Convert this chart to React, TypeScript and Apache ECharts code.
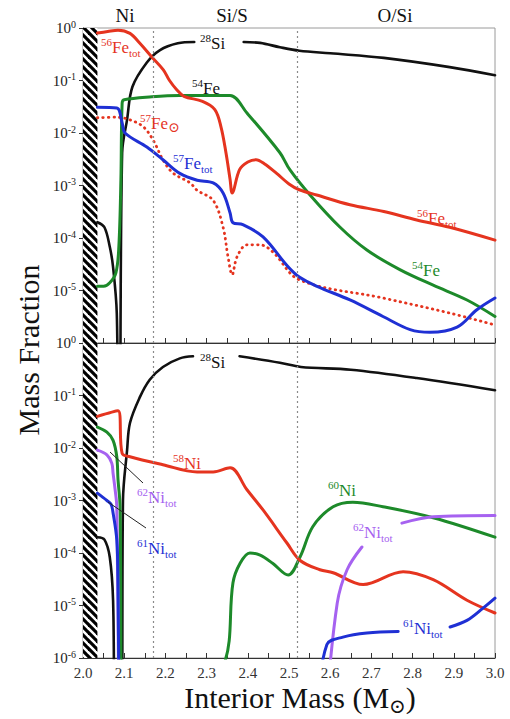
import React, { useEffect, useRef } from "react";
import * as echarts from "echarts";

type Pt = [number, number | null];

const SERIF = '"Liberation Serif", "DejaVu Serif", serif';
const RED = "#e5341f";
const GREEN = "#1d8a2a";
const BLUE = "#1f30d4";
const PURPLE = "#a662f0";
const BLACK = "#111111";

// Shared axis settings
const xRange = [2.0, 3.0];
const yRange = [1e-6, 1];
const zoneEdges = [2.17, 2.525];
const hatchEdge = [2.0, 2.035];
const zoneNames = ["Ni", "Si/S", "O/Si"];

// ---------- Top panel (Fe isotopes) ----------
const si28Top: Pt[] = [
  [2.035, 2.0e-4], [2.052, 1.6e-4], [2.065, 6.8e-5], [2.073, 2.8e-5], [2.082, 3.7e-6], [2.086, 1e-8],
  [2.089, 1e-8], [2.095, 4.2e-3], [2.107, 0.018], [2.12, 0.076], [2.155, 0.22], [2.187, 0.38],
  [2.23, 0.51], [2.27, 0.54], [2.33, null], [2.39, 0.54], [2.43, 0.52], [2.478, 0.43],
  [2.525, 0.37], [2.6, 0.33], [2.73, 0.27], [2.89, 0.18], [3.0, 0.126],
];
const fe54Top: Pt[] = [
  [2.035, 1.2e-5], [2.05, 1.2e-5], [2.065, 1.4e-5], [2.08, 2.2e-5], [2.087, 6.8e-5], [2.092, 1.3e-3],
  [2.095, 0.037], [2.1, 0.043], [2.167, 0.049], [2.235, 0.052], [2.3, 0.052], [2.357, 0.052],
  [2.398, 0.024], [2.478, 4.2e-3], [2.502, 2.0e-3], [2.551, 6.6e-4], [2.624, 1.6e-4], [2.689, 5.9e-5],
  [2.769, 2.5e-5], [2.85, 1.26e-5], [2.932, 6.6e-6], [3.0, 3.2e-6],
];
const fe56TotTop: Pt[] = [
  [2.035, 0.8], [2.06, 0.86], [2.085, 0.91], [2.114, 0.79], [2.138, 0.51], [2.167, 0.28], [2.195, 0.16],
  [2.21, 0.1], [2.228, 0.066], [2.245, 0.05], [2.29, 0.04], [2.32, 0.028], [2.335, 0.013], [2.347, 4.2e-3],
  [2.357, 1.3e-3], [2.362, 7.2e-4], [2.38, 2.0e-3], [2.4, 2.8e-3], [2.42, 3.1e-3], [2.44, 2.6e-3],
  [2.47, 1.7e-3], [2.5, 1.07e-3], [2.525, 8.3e-4], [2.567, 6.6e-4], [2.648, 4.3e-4], [2.73, 3.2e-4],
  [2.81, 2.2e-4], [2.89, 1.6e-4], [3.0, 9.1e-5],
];
const fe57SunTop: Pt[] = [
  [2.035, 0.0195], [2.082, 0.02], [2.114, 0.0178], [2.146, 0.0132], [2.17, 7.4e-3], [2.194, 3.1e-3],
  [2.218, 1.74e-3], [2.26, 1.12e-3], [2.277, 8.1e-4], [2.316, 5.2e-4], [2.34, 1.6e-4], [2.352, 4.4e-5],
  [2.362, 2.0e-5], [2.374, 4.4e-5], [2.398, 7.4e-5], [2.43, 7.4e-5], [2.461, 5.4e-5], [2.525, 1.6e-5],
  [2.728, 7.2e-6], [2.891, 3.7e-6], [3.0, 2.2e-6],
];
const fe57TotTop: Pt[] = [
  [2.035, 0.031], [2.082, 0.03], [2.095, 0.0155], [2.102, 0.01], [2.155, 5.4e-3], [2.194, 3.1e-3],
  [2.235, 1.7e-3], [2.277, 1.26e-3], [2.316, 1.12e-3], [2.34, 7.2e-4], [2.357, 3.0e-4], [2.364, 1.95e-4],
  [2.388, 1.8e-4], [2.437, 1.05e-4], [2.495, 3.0e-5], [2.525, 1.8e-5], [2.568, 1.2e-5], [2.648, 6.6e-6],
  [2.728, 3.2e-6], [2.794, 1.8e-6], [2.842, 1.6e-6], [2.908, 2.0e-6], [2.956, 4.3e-6], [3.0, 7.2e-6],
];

// ---------- Bottom panel (Ni isotopes) ----------
const si28Bot: Pt[] = [
  [2.035, 2.0e-4], [2.052, 1.8e-4], [2.065, 8.3e-5], [2.073, 1.26e-5], [2.08, 1e-8],
  [2.094, 1e-8], [2.097, 1e-3], [2.107, 9.1e-3], [2.114, 0.03], [2.138, 0.093], [2.162, 0.2],
  [2.194, 0.35], [2.235, 0.51], [2.267, 0.56], [2.33, null], [2.38, 0.56], [2.478, 0.42],
  [2.529, 0.35], [2.65, 0.31], [2.81, 0.215], [3.0, 0.126],
];
const ni58Bot: Pt[] = [
  [2.035, 0.04], [2.085, 0.051], [2.095, 7.9e-3], [2.114, 6.8e-3], [2.194, 4.8e-3], [2.277, 3.5e-3],
  [2.316, 3.5e-3], [2.357, 4.2e-3], [2.398, 1.6e-3], [2.437, 6.6e-4], [2.495, 1.55e-4], [2.527, 7.2e-5],
  [2.575, 4.8e-5], [2.607, 4.2e-5], [2.68, 2.5e-5], [2.777, 4.4e-5], [2.85, 3.1e-5], [2.932, 1.26e-5],
  [3.0, 7.2e-6],
];
const ni60Bot: Pt[] = [
  [2.035, 0.025], [2.058, 0.02], [2.073, 0.014], [2.082, 6.8e-3], [2.085, 2.5e-3], [2.09, 7.6e-4],
  [2.096, 1e-8], [2.343, 8e-7], [2.364, 2.7e-5], [2.381, 6.3e-5], [2.405, 1.0e-4], [2.43, 9.1e-5],
  [2.461, 6.3e-5], [2.498, 3.8e-5], [2.527, 8.5e-5], [2.558, 3.2e-4], [2.607, 7.6e-4], [2.655, 9.3e-4],
  [2.728, 7.6e-4], [2.85, 4.7e-4], [3.0, 2.0e-4],
];
const ni62TotBot: Pt[] = [
  [2.035, 9.1e-3], [2.058, 7.4e-3], [2.07, 5.1e-3], [2.073, 3.3e-3], [2.078, 1.6e-3], [2.082, 7.6e-4],
  [2.088, 1e-8], [2.45, null], [2.59, 1e-7], [2.617, 1.1e-5], [2.641, 4.8e-5], [2.677, 1.3e-4],
  [2.72, null], [2.774, 3.7e-4], [2.85, 4.9e-4], [3.0, 5.2e-4],
];
const ni61TotBot: Pt[] = [
  [2.035, 1.38e-3], [2.058, 1.0e-3], [2.068, 8.5e-4], [2.073, 5.8e-4], [2.082, 1.8e-4], [2.085, 2.7e-5],
  [2.088, 1e-8], [2.45, null], [2.566, 1e-7], [2.592, 1.8e-6], [2.631, 2.5e-6], [2.689, 3.0e-6],
  [2.765, 3.2e-6], [2.83, null], [2.891, 3.9e-6], [2.932, 5.2e-6], [2.971, 8.9e-6], [3.0, 1.38e-5],
];

function makeHatch(): HTMLCanvasElement {
  const c = document.createElement("canvas");
  c.width = 8;
  c.height = 8;
  const ctx = c.getContext("2d")!;
  ctx.fillStyle = "#ffffff";
  ctx.fillRect(0, 0, 8, 8);
  ctx.strokeStyle = "#000000";
  ctx.lineWidth = 3.2;
  for (const k of [-8, 0, 8]) {
    ctx.beginPath();
    ctx.moveTo(-2, -2 + k);
    ctx.lineTo(10, 10 + k);
    ctx.stroke();
  }
  return c;
}

function isoLabel(x: number, y: number, mass: string, el: string, sub: string, color: string, subSize = 11) {
  const rich = {
    p: { fontSize: 11, fontFamily: SERIF, fill: color, verticalAlign: "top" },
    n: { fontSize: 17, fontFamily: SERIF, fill: color, lineHeight: 22 },
    b: { fontSize: subSize, fontFamily: SERIF, fill: color, verticalAlign: "bottom" },
  };
  return {
    type: "text",
    x,
    y,
    z: 100,
    style: {
      text: `{p|${mass}}{n|${el}}` + (sub ? `{b|${sub}}` : ""),
      rich,
      align: "left",
      verticalAlign: "middle",
    },
  };
}

export default function App() {
  const ref = useRef<HTMLDivElement>(null);
  useEffect(() => {
    if (!ref.current) return;
    const chart = echarts.init(ref.current, undefined, { renderer: "svg" });
    const hatch = { image: makeHatch(), repeat: "repeat", imageWidth: 8, imageHeight: 8 };

    const line = (data: Pt[], color: string, width: number, grid: number, extra: any = {}) => ({
      type: "line",
      data,
      xAxisIndex: grid,
      yAxisIndex: grid,
      symbol: "none",
      showSymbol: false,
      smooth: 0.35,
      connectNulls: false,
      clip: true,
      silent: true,
      lineStyle: { color, width, cap: "round", join: "round" },
      z: 3,
      ...extra,
    });

    const decor = {
      markLine: {
        silent: true,
        symbol: ["none", "none"],
        label: { show: false },
        lineStyle: { color: "#8a8a8a", width: 1.2, type: [2, 3] },
        data: zoneEdges.map((v) => ({ xAxis: v })),
      },
      markArea: {
        silent: true,
        itemStyle: { color: hatch },
        data: [[{ xAxis: hatchEdge[0] }, { xAxis: hatchEdge[1] }]],
      },
    };

    const xAxisBase = (grid: number, showLabels: boolean) => ({
      type: "value",
      gridIndex: grid,
      min: xRange[0],
      max: xRange[1],
      interval: 0.05,
      splitLine: { show: false },
      axisLine: { show: true, lineStyle: { color: "#333", width: 1.2 } },
      axisTick: { show: true, inside: true, length: 5, lineStyle: { color: "#333" } },
      axisLabel: {
        show: showLabels,
        margin: 7,
        fontFamily: SERIF,
        fontSize: 15,
        color: "#333",
        formatter: (v: number) => (Math.round(v * 20) % 2 === 0 ? v.toFixed(1) : ""),
      },
    });

    const yAxisBase = (grid: number, hideBottom: boolean) => ({
      type: "log",
      logBase: 10,
      gridIndex: grid,
      min: yRange[0],
      max: yRange[1],
      interval: 1,
      splitLine: { show: false },
      axisLine: { show: true, lineStyle: { color: "#333", width: 1 } },
      axisTick: { show: true, inside: false, length: 4, lineStyle: { color: "#333" } },
      minorTick: { show: false },
      axisLabel: {
        margin: 7,
        color: "#222",
        formatter: (v: number) => {
          const e = Math.round(Math.log10(v));
          if (hideBottom && e === -6) return "";
          return `{b|10}{s|${e}}`;
        },
        rich: {
          b: { fontFamily: SERIF, fontSize: 15, color: "#222", lineHeight: 18 },
          s: { fontFamily: SERIF, fontSize: 10, color: "#222", verticalAlign: "top" },
        },
      },
    });

    const labelText = (x: number, y: number, text: string, size: number) => ({
      type: "text",
      x,
      y,
      z: 100,
      style: { text, fontFamily: SERIF, fontSize: size, fill: "#111", align: "center", verticalAlign: "middle" },
    });

    chart.setOption({
      animation: false,
      backgroundColor: "#ffffff",
      grid: [
        { left: 83, top: 28, width: 412, height: 315, show: true, borderColor: "#9a9a9a", borderWidth: 1, backgroundColor: "transparent" },
        { left: 83, top: 343, width: 412, height: 315, show: true, borderColor: "#9a9a9a", borderWidth: 1, backgroundColor: "transparent" },
      ],
      xAxis: [xAxisBase(0, false), xAxisBase(1, true)],
      yAxis: [yAxisBase(0, true), yAxisBase(1, false)],
      series: [
        line(si28Top, BLACK, 2.6, 0, decor),
        line(fe54Top, GREEN, 3, 0),
        line(fe56TotTop, RED, 3, 0),
        line(fe57SunTop, RED, 2.6, 0, { lineStyle: { color: RED, width: 2.8, type: [0.5, 5], cap: "round" } }),
        line(fe57TotTop, BLUE, 3, 0),
        line(si28Bot, BLACK, 2.6, 1, decor),
        line(ni60Bot, GREEN, 3, 1),
        line(ni58Bot, RED, 3, 1),
        line(ni62TotBot, PURPLE, 3, 1),
        line(ni61TotBot, BLUE, 3, 1),
      ],
      graphic: [
        labelText(125, 15, zoneNames[0], 19),
        labelText(232, 15, zoneNames[1], 19),
        labelText(395, 15, zoneNames[2], 19),
        {
          type: "text",
          x: 28,
          y: 350,
          rotation: Math.PI / 2,
          z: 100,
          style: { text: "Mass Fraction", fontFamily: SERIF, fontSize: 30, fill: "#111", align: "center", verticalAlign: "middle" },
        },
        {
          type: "text",
          x: 300,
          y: 697,
          z: 100,
          style: {
            text: "{a|Interior Mass (M}{s|⊙}{a|)}",
            align: "center",
            verticalAlign: "middle",
            rich: {
              a: { fontFamily: SERIF, fontSize: 30, fill: "#111", lineHeight: 38 },
              s: { fontFamily: '"DejaVu Serif", serif', fontSize: 20, fill: "#111", verticalAlign: "bottom" },
            },
          },
        },
        isoLabel(101, 47, "56", "Fe", "tot", RED),
        isoLabel(200, 43, "28", "Si", "", BLACK),
        isoLabel(192, 88, "54", "Fe", "", BLACK),
        isoLabel(140, 123, "57", "Fe", "⊙", RED, 14),
        isoLabel(173, 163, "57", "Fe", "tot", BLUE),
        isoLabel(417, 218, "56", "Fe", "tot", RED),
        isoLabel(412, 270, "54", "Fe", "", GREEN),
        isoLabel(200, 362, "28", "Si", "", BLACK),
        isoLabel(173, 463, "58", "Ni", "", RED),
        isoLabel(137, 497, "62", "Ni", "tot", PURPLE),
        isoLabel(137, 548, "61", "Ni", "tot", BLUE),
        isoLabel(328, 490, "60", "Ni", "", GREEN),
        isoLabel(353, 532, "62", "Ni", "tot", PURPLE),
        isoLabel(403, 628, "61", "Ni", "tot", BLUE),
        { type: "line", z: 100, shape: { x1: 110, y1: 452, x2: 143, y2: 483 }, style: { stroke: "#222", lineWidth: 1 } },
        { type: "line", z: 100, shape: { x1: 108, y1: 502, x2: 146, y2: 528 }, style: { stroke: "#222", lineWidth: 1 } },
      ],
    });
    return () => chart.dispose();
  }, []);
  return <div ref={ref} style={{ position: "fixed", left: 0, top: 0, width: 510, height: 719 }} />;
}
